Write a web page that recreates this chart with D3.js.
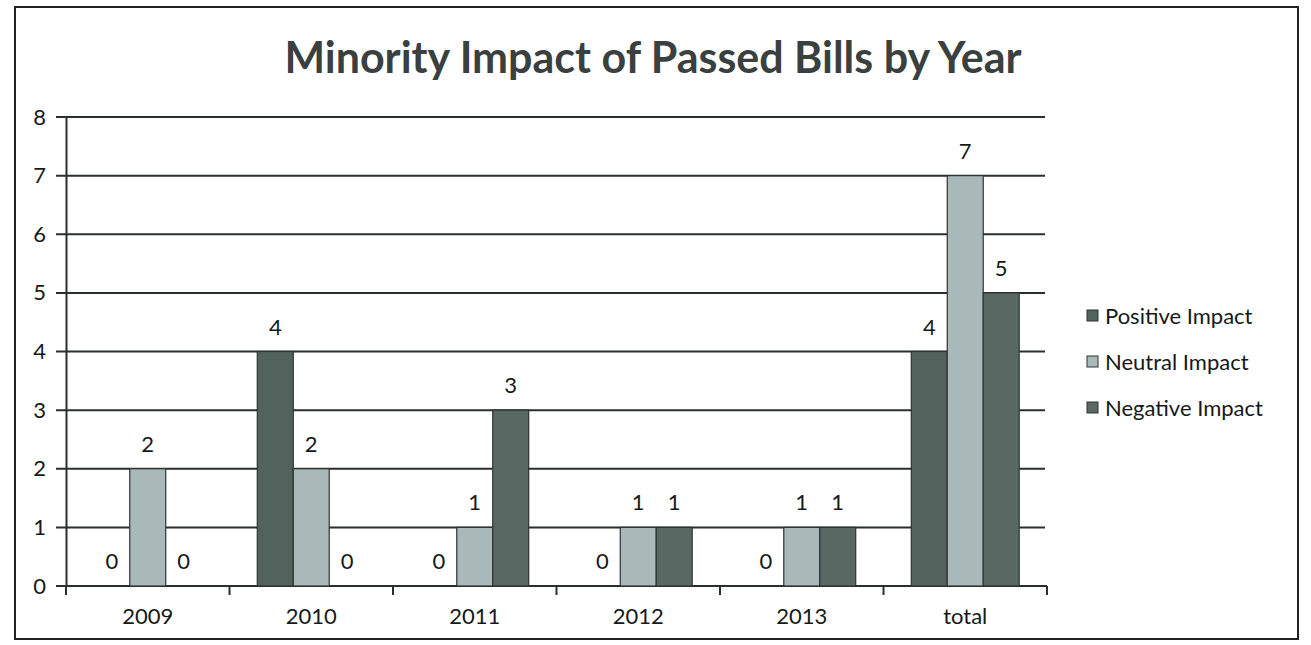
<!DOCTYPE html>
<html>
<head>
<meta charset="utf-8">
<script src="https://cdn.jsdelivr.net/npm/d3@7"></script>
<style>
  body { margin: 0; background: #fff; }
  text { font-family: Lato, "Open Sans", sans-serif; fill: #161919; }
</style>
</head>
<body>
<div id="main"></div>
<script>
var years = ["2009", "2010", "2011", "2012", "2013", "total"];
var seriesNames = ["Positive Impact", "Neutral Impact", "Negative Impact"];
var positive = [0, 4, 0, 0, 0, 4];
var neutral = [2, 2, 1, 1, 1, 7];
var negative = [0, 0, 3, 1, 1, 5];
var yTicks = [0, 1, 2, 3, 4, 5, 6, 7, 8];
var colors = ["#52625d", "#a9b9b9", "#5a6864"];

var series = [positive, neutral, negative];

var svg = d3.select("#main").append("svg")
  .attr("width", 1311)
  .attr("height", 645);//canvas

// frame of the chart area
svg.append("rect")
  .attr("x", 15).attr("y", 7)
  .attr("width", 1283).attr("height", 632)
  .attr("fill", "none")
  .attr("stroke", "#222")
  .attr("stroke-width", 2);

svg.append("text")
  .attr("x", 653).attr("y", 73)
  .attr("text-anchor", "middle")
  .style("font-size", "43px")
  .style("font-weight", "bold")
  .style("fill", "#3a3f3f")
  .text("Minority Impact of Passed Bills by Year");//title

var x0 = d3.scaleBand().domain(years).range([66, 1047]).paddingInner(0.34).paddingOuter(0.17);
var x1 = d3.scaleBand().domain(d3.range(3)).range([0, x0.bandwidth()]);
var y = d3.scaleLinear().domain([0, 8]).range([586, 117]);
var xEdge = d3.scaleLinear().domain([0, years.length]).range([66, 1047]);

// gridlines
svg.append("g").selectAll("line").data(yTicks).enter().append("line")
  .attr("x1", 56).attr("x2", 1045)
  .attr("y1", function(d) { return y(d); })
  .attr("y2", function(d) { return y(d); })
  .attr("stroke", "#2b2e2e")
  .attr("stroke-width", 2);

// y axis
var yAxis = d3.axisLeft(y).tickValues(yTicks).tickSize(0).tickPadding(20).tickFormat(d3.format("d"));
var yg = svg.append("g").attr("transform", "translate(66,0)").call(yAxis);
yg.select(".domain").attr("stroke", "#2b2e2e").attr("stroke-width", 2);
yg.selectAll("text").style("font-size", "22px").style("font-family", "Lato, sans-serif").style("fill", "#161919");

// x axis line and category ticks
svg.append("line")
  .attr("x1", 66).attr("x2", 1047)
  .attr("y1", y(0)).attr("y2", y(0))
  .attr("stroke", "#2b2e2e").attr("stroke-width", 2);
svg.append("g").selectAll("line").data(d3.range(years.length + 1)).enter().append("line")
  .attr("x1", function(d) { return xEdge(d); })
  .attr("x2", function(d) { return xEdge(d); })
  .attr("y1", y(0)).attr("y2", y(0) + 9)
  .attr("stroke", "#2b2e2e").attr("stroke-width", 2);
svg.append("g").selectAll("text").data(years).enter().append("text")
  .attr("x", function(d) { return x0(d) + x0.bandwidth() / 2; })
  .attr("y", 624)
  .attr("text-anchor", "middle")
  .style("font-size", "22px")
  .text(function(d) { return d; });

// bars
var groups = svg.append("g").selectAll("g").data(years).enter().append("g")
  .attr("transform", function(d) { return "translate(" + x0(d) + ",0)"; });
groups.selectAll("rect").data(function(d, i) { return series.map(function(s, j) { return {k: j, v: s[i]}; }); })
  .enter().append("rect")
  .attr("x", function(d) { return x1(d.k); })
  .attr("width", x1.bandwidth())
  .attr("y", function(d) { return y(d.v); })
  .attr("height", function(d) { return y(0) - y(d.v); })
  .attr("fill", function(d) { return colors[d.k]; })
  .attr("stroke", "#2f3433")
  .attr("stroke-width", function(d) { return d.v ? 1.2 : 0; });
groups.selectAll("text").data(function(d, i) { return series.map(function(s, j) { return {k: j, v: s[i]}; }); })
  .enter().append("text")
  .attr("x", function(d) { return x1(d.k) + x1.bandwidth() / 2; })
  .attr("y", function(d) { return y(d.v) - 17; })
  .attr("text-anchor", "middle")
  .style("font-size", "22px")
  .text(function(d) { return d.v; });//value labels

// legend
var legend = svg.selectAll(".legend").data(seriesNames).enter().append("g")
  .attr("class", "legend")
  .attr("transform", function(d, i) { return "translate(1087," + (316 + i * 46) + ")"; });
legend.append("rect")
  .attr("x", 0).attr("y", -6)
  .attr("width", 11).attr("height", 11)
  .attr("fill", function(d, i) { return colors[i]; })
  .attr("stroke", "#2f3433").attr("stroke-width", 1);
legend.append("text")
  .attr("x", 18).attr("y", 0)
  .attr("dy", ".35em")
  .style("font-size", "22px")
  .text(function(d) { return d; });
</script>
</body>
</html>
